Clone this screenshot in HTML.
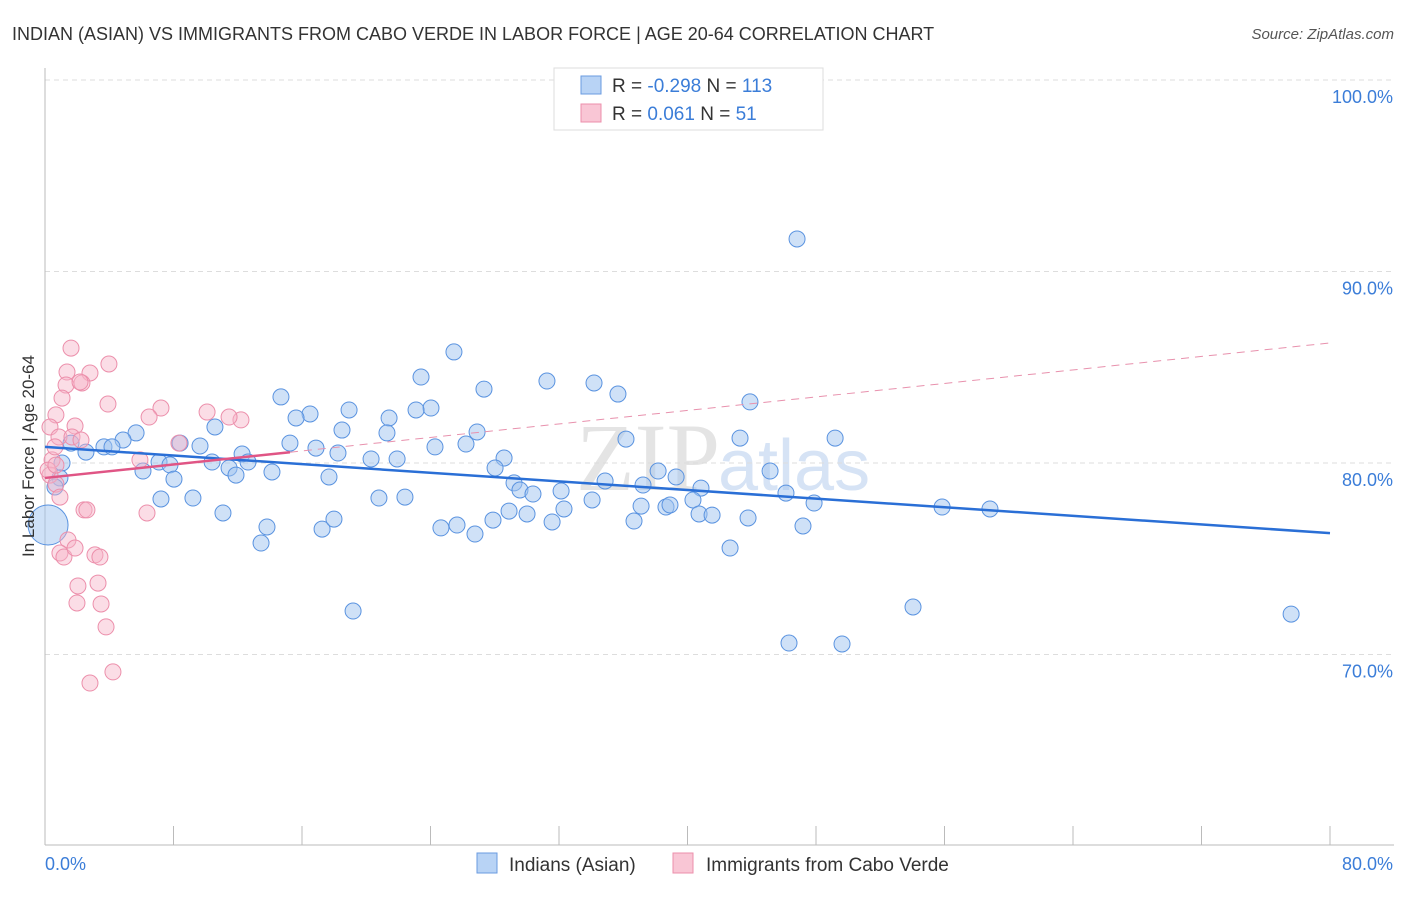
<!DOCTYPE html>
<html><head><meta charset="utf-8"><style>
body{margin:0;background:#fff;font-family:"Liberation Sans",sans-serif}
</style></head><body>
<svg id="c" width="1406" height="892" xmlns="http://www.w3.org/2000/svg">
<text x="12" y="40" font-size="18" fill="#333">INDIAN (ASIAN) VS IMMIGRANTS FROM CABO VERDE IN LABOR FORCE | AGE 20-64 CORRELATION CHART</text>
<text x="1394" y="39" font-size="15" fill="#555" font-style="italic" text-anchor="end">Source: ZipAtlas.com</text>
<text x="720" y="490" font-size="96" fill="#e4e4e4" text-anchor="end" font-family="Liberation Serif,serif">ZIP</text>
<text x="718" y="490" font-size="72" fill="#d6e3f5">atlas</text>
<g id="grid"></g><g id="pts"></g><g id="lines"></g>
<text x="34" y="456" font-size="17" fill="#333" text-anchor="middle" transform="rotate(-90 34 456)">In Labor Force | Age 20-64</text>
<text x="45" y="870" font-size="18" fill="#3b7dd8">0.0%</text>
<text x="1393" y="870" font-size="18" fill="#3b7dd8" text-anchor="end">80.0%</text>
<g>
<rect x="554" y="68" width="269" height="62" fill="#fff" stroke="#ddd"/>
<rect x="581" y="76" width="20" height="18" fill="#b8d3f5" stroke="#6a9be0"/>
<rect x="581" y="104" width="20" height="18" fill="#f9c6d5" stroke="#ec8fab"/>
<text x="612" y="92" font-size="19" fill="#333">R = <tspan fill="#3b7dd8">-0.298</tspan>   N = <tspan fill="#3b7dd8">113</tspan></text>
<text x="612" y="120" font-size="19" fill="#333">R =   <tspan fill="#3b7dd8">0.061</tspan>   N =   <tspan fill="#3b7dd8">51</tspan></text>
</g>
<g>
<rect x="477" y="853" width="20" height="20" fill="#b8d3f5" stroke="#6a9be0"/>
<text x="509" y="871" font-size="19" fill="#333">Indians (Asian)</text>
<rect x="673" y="853" width="20" height="20" fill="#f9c6d5" stroke="#ec8fab"/>
<text x="706" y="871" font-size="19" fill="#333">Immigrants from Cabo Verde</text>
</g>
</svg>
<script>
const blueX=[46.82,25.46,23.41,31.25,34.18,27.33,35.67,14.69,43.89,18.93,24.03,23.10,16.50,21.42,15.63,18.49,21.29,26.90,36.17,43.27,49.19,5.67,4.86,8.41,10.58,15.25,16.87,24.28,26.21,3.67,1.62,4.17,2.55,9.65,12.27,20.30,18.24,21.92,28.58,7.10,7.78,10.40,11.46,12.64,11.89,8.03,6.10,14.13,17.68,28.02,29.20,29.57,30.38,32.13,38.17,39.29,40.84,45.14,46.13,34.87,37.23,7.22,9.21,20.79,22.41,11.08,13.82,13.45,17.25,17.99,24.65,25.65,26.77,27.89,28.89,30.01,32.31,31.57,34.06,36.67,37.11,38.66,38.91,40.34,40.72,41.53,43.77,42.65,47.19,47.88,55.85,58.83,19.18,54.04,46.32,49.62,77.58,1.06,0.93,0.62,0.19];
const blueY=[91.70,85.80,84.49,84.28,84.18,83.86,83.60,83.45,83.19,82.77,82.87,82.77,82.56,82.35,82.35,81.72,81.57,81.62,81.25,81.30,81.30,81.57,81.20,81.04,81.88,81.04,80.78,80.84,80.99,80.84,81.04,80.84,80.57,80.89,80.47,80.21,80.52,80.21,80.26,80.05,79.90,80.05,79.74,80.05,79.37,79.16,79.58,79.53,79.27,79.74,78.96,78.59,78.38,78.54,79.58,79.27,78.69,79.58,78.43,79.06,78.85,78.12,78.17,78.17,78.22,77.39,76.66,75.82,76.55,77.07,76.61,76.76,76.29,77.02,77.49,77.34,77.60,76.92,78.07,76.97,77.75,77.70,77.81,78.07,77.34,77.28,77.13,75.56,76.71,77.91,77.70,77.60,72.27,72.48,70.60,70.55,72.11,80.00,79.22,78.75,76.76];
const pinkX=[1.62,3.98,1.37,2.80,2.30,1.31,2.18,1.06,0.68,3.92,7.22,6.48,10.09,12.20,11.46,8.34,0.31,0.87,1.87,1.68,2.24,0.44,0.62,0.31,0.68,0.93,2.43,2.61,6.35,1.43,0.93,1.18,1.87,3.11,3.42,2.05,3.30,1.99,3.49,3.80,2.80,4.23,0.19,0.68,5.91];
const pinkY=[86.00,85.17,84.75,84.70,84.18,84.07,84.23,83.39,82.51,83.08,82.87,82.40,82.66,82.25,82.40,81.04,81.88,81.36,81.93,81.36,81.20,80.16,80.84,79.37,78.90,78.22,77.55,77.55,77.39,75.98,75.30,75.09,75.56,75.20,75.09,73.58,73.73,72.69,72.64,71.44,68.51,69.09,79.63,79.89,80.16];
const yTicks=[100,90,80,70];
const yTickLabels=["100.0%","90.0%","80.0%","70.0%"];
const blueTrend=[80.84,76.34];
const pinkTrend=[79.22,86.27];
const pinkSolidEnd=15.25;
const X0=45,X1=1330,Y100=80,PPU=19.15;
const sx=v=>X0+(v/80)*(X1-X0);
const sy=v=>Y100+(100-v)*PPU;
const NS="http://www.w3.org/2000/svg";
function mk(t,a,p){const e=document.createElementNS(NS,t);for(const k in a)e.setAttribute(k,a[k]);p.appendChild(e);return e;}
const grid=document.getElementById('grid'),pts=document.getElementById('pts'),lines=document.getElementById('lines');
yTicks.forEach((v,i)=>{
 const l=mk('line',{x1:X0,x2:1394,y1:sy(v),y2:sy(v),stroke:'#ddd','stroke-dasharray':'5,4'},grid);
 
 
 const t=mk('text',{x:1393,y:sy(v)+23,'font-size':18,fill:'#3b7dd8','text-anchor':'end'},grid);
 t.textContent=yTickLabels[i];
 
 
});
const ax=mk('line',{x1:X0,x2:X0,y1:68,y2:845,stroke:'#bbb'},grid);


const bx=mk('line',{x1:X0,x2:1394,y1:845,y2:845,stroke:'#bbb'},grid);


for(let k=0;k<=10;k++){
 const x=sx(k*8);
 const tk=mk('line',{x1:x,x2:x,y1:826,y2:845,stroke:'#bbb'},grid);
 
 
}
blueX.forEach((v,i)=>{
 const big=(i===blueX.length-1);
 const c=mk('circle',{cx:sx(v),cy:sy(blueY[i]),r:big?20:8,fill:'rgba(160,196,240,0.5)',stroke:'#5a93e0','stroke-width':1},pts);
 
 
});
pinkX.forEach((v,i)=>{
 const c=mk('circle',{cx:sx(v),cy:sy(pinkY[i]),r:8,fill:'rgba(246,180,200,0.45)',stroke:'#ec8fab','stroke-width':1},pts);
 
 
});
const bl=mk('line',{x1:sx(0),y1:sy(blueTrend[0]),x2:sx(80),y2:sy(blueTrend[1]),stroke:'#2a6fd6','stroke-width':2.5},lines);


const pyAt=v=>pinkTrend[0]+(pinkTrend[1]-pinkTrend[0])*v/80;
const pd=mk('line',{x1:sx(pinkSolidEnd),y1:sy(pyAt(pinkSolidEnd)),x2:sx(80),y2:sy(pinkTrend[1]),stroke:'#e891ad','stroke-width':1,'stroke-dasharray':'8,6'},lines);


const ps=mk('line',{x1:sx(0),y1:sy(pinkTrend[0]),x2:sx(pinkSolidEnd),y2:sy(pyAt(pinkSolidEnd)),stroke:'#e05585','stroke-width':2.5},lines);


</script>
</body></html>
